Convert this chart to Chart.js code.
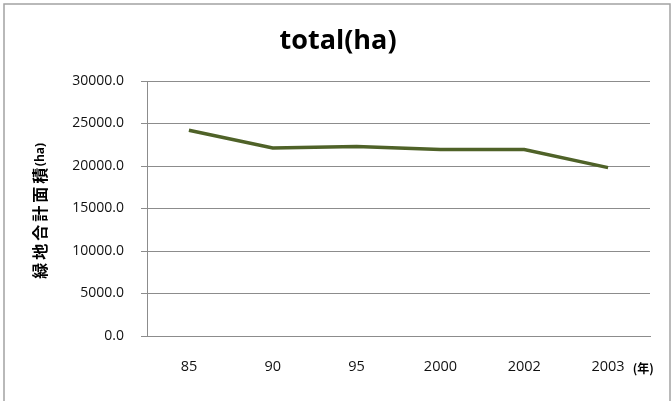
<!DOCTYPE html>
<html>
<head>
<meta charset="utf-8">
<script src="https://cdn.jsdelivr.net/npm/chart.js@4/dist/chart.umd.min.js"></script>
<style>
  html, body { margin: 0; padding: 0; background: #ffffff; }
  #wrap { width: 672px; height: 401px; position: relative; }
</style>
</head>
<body>
<div id="wrap"><canvas id="c" width="672" height="401"></canvas></div>
<script>
// Green-space total area by year
const years = ['85', '90', '95', '2000', '2002', '2003'];
const totalArea = [24210, 22120, 22280, 21930, 21930, 19810];
const yMin = 0;
const yMax = 30000;
const yStep = 5000;

const chartTitle = 'total(ha)';
const yTitleMain = '緑地合計面積';
const yTitleUnit = '(ha)';
const xUnit = '(年)';

const LINE_COLOR = '#4f6228';
const GRID_COLOR = '#8c8c8c';
const TEXT_COLOR = '#111111';
const LATIN = "'Open Sans', 'Liberation Sans', sans-serif";
const CJK = "'Noto Sans CJK JP', 'Noto Sans', sans-serif";
const X_FONT_SIZE = 14.5;

// Frame, title and axis captions drawn on the canvas
const decorations = {
  id: 'decorations',
  beforeDraw(chart) {
    const ctx = chart.ctx;
    ctx.save();
    ctx.fillStyle = '#ffffff';
    ctx.fillRect(0, 0, chart.width, chart.height);
    ctx.strokeStyle = '#a3a3a3';
    ctx.lineWidth = 1.5;
    ctx.strokeRect(4, 4, 666, 420);
    ctx.restore();
  },
  afterDraw(chart) {
    const ctx = chart.ctx;
    const area = chart.chartArea;
    ctx.save();
    ctx.fillStyle = '#000000';

    // chart title
    ctx.font = 'bold 27px ' + LATIN;
    ctx.textAlign = 'center';
    ctx.textBaseline = 'middle';
    ctx.fillText(chartTitle, 338, 41);

    // rotated y-axis caption, CJK glyphs set with a fixed advance
    const cy = (area.top + area.bottom) / 2 + 3;
    ctx.translate(40, cy);
    ctx.rotate(-Math.PI / 2);
    ctx.textAlign = 'left';
    ctx.textBaseline = 'middle';
    const fMain = 'bold 16px ' + CJK;
    const fUnit = 'bold 12px ' + LATIN;
    const advance = 19;
    const wMain = advance * yTitleMain.length;
    ctx.font = fUnit;
    const wUnit = ctx.measureText(yTitleUnit).width;
    const startX = -(wMain + wUnit) / 2;
    ctx.font = fMain;
    ctx.textAlign = 'center';
    for (let i = 0; i < yTitleMain.length; i++) {
      ctx.fillText(yTitleMain[i], startX + advance * (i + 0.5), 0);
    }
    ctx.textAlign = 'left';
    ctx.font = fUnit;
    ctx.fillText(yTitleUnit, startX + wMain, 1);
    ctx.setTransform(1, 0, 0, 1, 0, 0);

    // unit after the last category label
    const xs = chart.scales.x;
    const lastX = xs.getPixelForValue(years.length - 1);
    ctx.font = X_FONT_SIZE + 'px ' + LATIN;
    const wLast = ctx.measureText(years[years.length - 1]).width;
    ctx.font = 'bold 12px ' + CJK;
    ctx.textAlign = 'left';
    ctx.textBaseline = 'middle';
    ctx.fillText(xUnit, lastX + wLast / 2 + 8, 368);
    ctx.restore();
  }
};

new Chart(document.getElementById('c'), {
  type: 'line',
  data: {
    labels: years,
    datasets: [{
      data: totalArea,
      borderColor: LINE_COLOR,
      borderWidth: 3.5,
      pointRadius: 0,
      pointHoverRadius: 0,
      tension: 0,
      fill: false
    }]
  },
  options: {
    responsive: false,
    animation: false,
    layout: { padding: { left: 0, right: 22, top: 81, bottom: 0 } },
    plugins: {
      legend: { display: false },
      title: { display: false },
      tooltip: { enabled: false }
    },
    scales: {
      x: {
        type: 'category',
        offset: true,
        grid: { display: false, drawTicks: false, tickLength: 0 },
        border: { display: true, color: GRID_COLOR, width: 1 },
        ticks: {
          color: TEXT_COLOR,
          font: { family: LATIN, size: X_FONT_SIZE },
          padding: 22,
          maxRotation: 0,
          autoSkip: false
        },
        afterFit(scale) { scale.height = 65; }
      },
      y: {
        min: yMin,
        max: yMax,
        grid: { color: GRID_COLOR, lineWidth: 1, drawTicks: true, tickLength: 6 },
        border: { display: true, color: GRID_COLOR, width: 1 },
        ticks: {
          stepSize: yStep,
          color: TEXT_COLOR,
          font: { family: LATIN, size: 14 },
          padding: 17,
          callback: (v) => Number(v).toFixed(1)
        },
        afterFit(scale) { scale.width = 147; }
      }
    }
  },
  plugins: [decorations]
});
</script>
</body>
</html>
